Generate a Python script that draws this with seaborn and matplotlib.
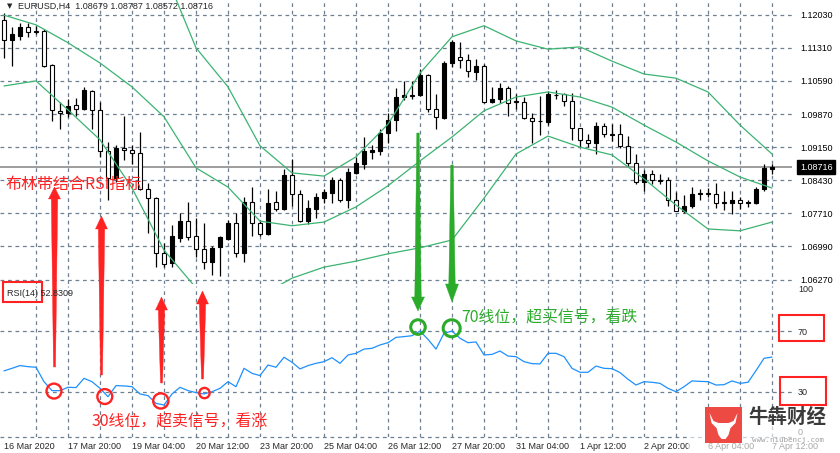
import matplotlib
matplotlib.use("Agg")
import matplotlib.pyplot as plt
import numpy as np
import pandas as pd
import seaborn as sns
from matplotlib.patches import Polygon, Rectangle
from matplotlib.transforms import blended_transform_factory

sns.set_style("white")
plt.rcParams["font.family"] = ["Liberation Sans", "DejaVu Sans"]
CJK = ["Noto Sans CJK SC", "DejaVu Sans"]

W, H = 840, 453

# ---- EURUSD H4 candles ----
opens = [1.1192, 1.1147, 1.1157, 1.1176, 1.1167, 1.1168, 1.1093, 1.0994, 1.0989, 1.1006,
         1.0998, 1.1038, 1.0996, 1.0907, 1.0847, 1.0914, 1.0909, 1.0902, 1.0823, 1.0804,
         1.0684, 1.0662, 1.0718, 1.0754, 1.0722, 1.0693, 1.0666, 1.0697, 1.0716, 1.0751,
         1.0684, 1.0795, 1.0751, 1.0725, 1.0795, 1.0780, 1.0854, 1.0812, 1.0755, 1.0780,
         1.0805, 1.0816, 1.0843, 1.0799, 1.0859, 1.0879, 1.0905, 1.0907, 1.0945, 1.0975,
         1.1023, 1.1027, 1.1028, 1.1071, 1.0998, 1.0979, 1.1097, 1.1112, 1.1104, 1.1079,
         1.1091, 1.1014, 1.1019, 1.1043, 1.1015, 1.1014, 1.0978, 1.0972, 1.0970, 1.1028,
         1.1030, 1.1015, 1.0956, 1.0931, 1.0925, 1.0962, 1.0944, 1.0943, 1.0918, 1.0880,
         1.0840, 1.0856, 1.0844, 1.0843, 1.0799, 1.0777, 1.0786, 1.0814, 1.0815, 1.0814,
         1.0795, 1.0793, 1.0801, 1.0794, 1.0794, 1.0824, 1.08679]
highs = [1.1206, 1.1177, 1.1186, 1.1184, 1.1178, 1.1171, 1.1096, 1.1014, 1.1019, 1.1021,
         1.1045, 1.1039, 1.1014, 1.0927, 1.0920, 1.0983, 1.0920, 1.0947, 1.0838, 1.0807,
         1.0706, 1.0746, 1.0771, 1.0796, 1.0760, 1.0751, 1.0700, 1.0722, 1.0757, 1.0771,
         1.0806, 1.0828, 1.0757, 1.0823, 1.0820, 1.0867, 1.0889, 1.0822, 1.0800, 1.0816,
         1.0823, 1.0849, 1.0847, 1.0869, 1.0894, 1.0936, 1.0920, 1.0954, 1.0990, 1.1043,
         1.1059, 1.1059, 1.1086, 1.1074, 1.1031, 1.1102, 1.1147, 1.1144, 1.1117, 1.1106,
         1.1095, 1.1045, 1.1055, 1.1047, 1.1031, 1.1023, 1.0989, 1.1026, 1.1038, 1.1039,
         1.1032, 1.1032, 1.0957, 1.0943, 1.0969, 1.0967, 1.0965, 1.0965, 1.0939, 1.0899,
         1.0865, 1.0865, 1.0857, 1.0851, 1.0818, 1.0811, 1.0828, 1.0825, 1.0827, 1.0838,
         1.0820, 1.0820, 1.0807, 1.0801, 1.0829, 1.0878, 1.08787]
lows = [1.1108, 1.1092, 1.1148, 1.1155, 1.1162, 1.1090, 1.0972, 1.0954, 1.0980, 1.0983,
        1.0996, 1.0954, 1.0894, 1.0800, 1.0840, 1.0886, 1.0878, 1.0822, 1.0728, 1.0655,
        1.0655, 1.0655, 1.0709, 1.0713, 1.0675, 1.0651, 1.0637, 1.0635, 1.0713, 1.0675,
        1.0666, 1.0722, 1.0722, 1.0724, 1.0775, 1.0778, 1.0788, 1.0753, 1.0747, 1.0760,
        1.0793, 1.0793, 1.0795, 1.0783, 1.0856, 1.0867, 1.0889, 1.0898, 1.0925, 1.0951,
        1.1018, 1.1020, 1.1026, 1.0992, 1.0954, 1.0976, 1.1090, 1.1088, 1.1067, 1.1060,
        1.1012, 1.1010, 1.1010, 1.0983, 1.0999, 1.0976, 1.0925, 1.0941, 1.0963, 1.1019,
        1.1004, 1.0930, 1.0916, 1.0916, 1.0901, 1.0938, 1.0929, 1.0914, 1.0875, 1.0835,
        1.0820, 1.0834, 1.0835, 1.0786, 1.0775, 1.0772, 1.0782, 1.0799, 1.0807, 1.0783,
        1.0778, 1.0769, 1.0780, 1.0784, 1.0791, 1.0820, 1.08572]
closes = [1.1148, 1.1160, 1.1176, 1.1166, 1.1166, 1.1092, 1.0996, 1.0989, 1.1004, 1.0999,
          1.1039, 1.0996, 1.0907, 1.0847, 1.0914, 1.0909, 1.0902, 1.0823, 1.0804, 1.0684,
          1.0660, 1.0722, 1.0754, 1.0720, 1.0693, 1.0666, 1.0695, 1.0719, 1.0749, 1.0684,
          1.0795, 1.0751, 1.0725, 1.0793, 1.0780, 1.0854, 1.0812, 1.0755, 1.0782, 1.0806,
          1.0817, 1.0843, 1.0799, 1.0861, 1.0880, 1.0907, 1.0909, 1.0946, 1.0974, 1.1025,
          1.1028, 1.1029, 1.1071, 1.0998, 1.0980, 1.1099, 1.1144, 1.1105, 1.1081, 1.1091,
          1.1014, 1.1020, 1.1043, 1.1012, 1.1013, 1.0978, 1.0972, 1.0971, 1.1030, 1.1029,
          1.1015, 1.0956, 1.0931, 1.0925, 1.0960, 1.0943, 1.0942, 1.0918, 1.0880, 1.0840,
          1.0856, 1.0843, 1.0842, 1.0799, 1.0777, 1.0787, 1.0813, 1.0815, 1.0814, 1.0793,
          1.0794, 1.0801, 1.0793, 1.0795, 1.0825, 1.0870, 1.08716]
last_price = 1.08716

# ---- Bollinger bands, sampled every 4 bars ----
bb_idx = list(range(0, 97, 4))
bb_upper = [1.1357, 1.1330, 1.1315, 1.1305, 1.1300, 1.1300, 1.1131, 1.1046, 1.0918, 1.0859,
            1.0852, 1.0894, 1.0965, 1.1076, 1.1155, 1.1179, 1.1146, 1.1128, 1.1133, 1.1102,
            1.1074, 1.1065, 1.1035, 1.0963, 1.0900]
bb_mid = [1.1202, 1.1181, 1.1142, 1.1098, 1.1046, 1.0981, 1.0870, 1.0828, 1.0754, 1.0744,
          1.0752, 1.0785, 1.0831, 1.0885, 1.0937, 1.0994, 1.1024, 1.1035, 1.1024, 1.1002,
          1.0963, 1.0926, 1.0885, 1.0850, 1.0826]
bb_lower = [1.1048, 1.1059, 1.0996, 1.0931, 1.0826, 1.0691, 1.0609, 1.0611, 1.0591, 1.0630,
            1.0654, 1.0667, 1.0683, 1.0696, 1.0713, 1.0804, 1.0900, 1.0939, 1.0915, 1.0898,
            1.0846, 1.0789, 1.0737, 1.0733, 1.0752]

# ---- RSI(14) ----
rsi = [43.7, 45.4, 47.2, 46.5, 46.1, 36.6, 30.7, 30.7, 32.9, 32.7,
       38.8, 36.6, 32.2, 26.7, 34.0, 33.8, 33.3, 28.5, 27.4, 22.3,
       21.2, 28.5, 32.9, 30.7, 29.4, 28.5, 30.0, 32.2, 36.6, 33.3,
       45.4, 42.1, 40.6, 47.6, 46.1, 52.7, 49.4, 45.0, 47.2, 48.7,
       49.8, 52.4, 48.7, 54.2, 55.3, 58.1, 58.6, 60.8, 62.3, 65.8,
       66.3, 66.9, 70.0, 64.5, 58.1, 68.5, 70.0, 65.2, 62.3, 62.8,
       54.2, 54.6, 56.8, 53.5, 53.1, 49.8, 48.5, 48.3, 55.3, 55.3,
       53.1, 45.4, 42.8, 42.8, 46.9, 45.4, 45.2, 42.6, 38.2, 34.4,
       36.6, 36.2, 35.5, 32.2, 30.0, 33.3, 37.1, 36.8, 36.6, 34.4,
       34.6, 37.1, 35.5, 36.2, 43.9, 52.0, 52.83]

price_ticks = [1.12030, 1.11310, 1.10590, 1.09870, 1.09150, 1.08430, 1.07710, 1.06990, 1.06270]
rsi_ticks = [0, 30, 70, 100]
xlabel_idx = [0, 8, 16, 24, 32, 40, 48, 56, 64, 72, 80, 88, 96]
xlabels = ["16 Mar 2020", "17 Mar 20:00", "19 Mar 04:00", "20 Mar 12:00", "23 Mar 20:00",
           "25 Mar 04:00", "26 Mar 12:00", "27 Mar 20:00", "31 Mar 04:00", "1 Apr 12:00",
           "2 Apr 20:00", "6 Apr 04:00", "7 Apr 12:00"]

# annotation anchors on the RSI pane (bar index, rsi level)
oversold_pts = [(6.25, 30.4), (12.6, 26.8), (19.6, 23.9), (25.06, 29.1)]
oversold_size = [115, 115, 120, 55]
overbought_pts = [(51.75, 72.6), (55.96, 71.8)]
overbought_size = [110, 150]

RED = "#ff2222"
GREEN = "#2aab2a"
GRID = "#6f8091"
BAND = "#3cb371"


def fx(px):
    return px / W


def fy(py):
    return 1 - py / H


fig = plt.figure(figsize=(W / 100, H / 100), dpi=100)
fig.patch.set_facecolor("white")

ax = fig.add_axes([0, fy(284), fx(792), 284 / H])
ax_rsi = fig.add_axes([0, fy(437.2), fx(792), (437.2 - 285.5) / H])

grid_kw = dict(color=GRID, lw=0.9, ls=(0, (3, 3)), zorder=0)
for a in (ax, ax_rsi):
    a.set_xlim(-0.5, 98.5)
    for s in a.spines.values():
        s.set_visible(False)
    for k in range(4, 97, 4):
        a.axvline(k, **grid_kw)
for v in price_ticks:
    ax.axhline(v, **grid_kw)
for v in (30, 70):
    ax_rsi.axhline(v, **grid_kw)
ax_rsi.axhline(0, clip_on=False, **grid_kw)

# candles
df = pd.DataFrame(dict(o=opens, h=highs, l=lows, c=closes))
df["i"] = np.arange(len(df))
bull = df.c > df.o
ax.axhline(last_price, color="#8c8c8c", lw=1.2, zorder=1)
ax.vlines(df.i, df.l, df.h, color="black", lw=0.9, zorder=2)
body_lo = np.minimum(df.o, df.c)
body_h = np.maximum((df.c - df.o).abs(), 0.00002)
ax.bar(df.i, body_h, bottom=body_lo, width=0.5,
       color=np.where(bull, "black", "white"), edgecolor="black", linewidth=0.8, zorder=3)

# bollinger bands
for band in (bb_upper, bb_mid, bb_lower):
    sns.lineplot(x=bb_idx, y=band, ax=ax, color=BAND, lw=0.9, zorder=4)

ax.set_ylim(1.06173, 1.1235)
ax.set_xticks([])
ax.yaxis.tick_right()
ax.set_yticks(price_ticks)
ax.set_yticklabels([f"{v:.5f}" for v in price_ticks])
ax.tick_params(axis="y", length=0, pad=5.8, labelsize=6.5, labelcolor="black")
ax.set_xlabel("")
ax.set_ylabel("")

tr = blended_transform_factory(ax.transAxes, ax.transData)
ax.text(800 / 792, last_price, f"{last_price:.5f}", transform=tr, color="white",
        fontsize=6.5, va="center", ha="left", clip_on=False, zorder=10,
        bbox=dict(boxstyle="square,pad=0.3", fc="black", ec="black"))

# RSI
sns.lineplot(x=df.i, y=rsi, ax=ax_rsi, color="#1e90ff", lw=0.9, zorder=3)
ax_rsi.set_ylim(0, 100)
ax_rsi.yaxis.tick_right()
ax_rsi.set_yticks(rsi_ticks)
ax_rsi.set_yticklabels([str(v) for v in rsi_ticks])
ax_rsi.tick_params(axis="y", length=0, pad=4.3, labelsize=6.5)
labs = ax_rsi.get_yticklabels()
labs[0].set_va("bottom")
labs[-1].set_va("top")
ax_rsi.set_xticks(xlabel_idx)
ax_rsi.set_xticklabels(xlabels, ha="left")
ax_rsi.tick_params(axis="x", length=0, pad=3.3, labelsize=6.5)
ax_rsi.set_xlabel("")
ax_rsi.set_ylabel("")

ax_rsi.scatter([p[0] for p in oversold_pts], [p[1] for p in oversold_pts], s=oversold_size,
               facecolors="none", edgecolors=RED, linewidths=1.7, zorder=6, clip_on=False)
ax_rsi.scatter([p[0] for p in overbought_pts], [p[1] for p in overbought_pts], s=overbought_size,
               facecolors="none", edgecolors=GREEN, linewidths=2.2, zorder=6, clip_on=False)

# header texts
fig.text(fx(9.5), fy(6.5), "\u25BC", family="DejaVu Sans", fontsize=5, ha="center", va="center")
fig.text(fx(18), fy(6.7), "EURUSD,H4  1.08679 1.08787 1.08572 1.08716",
         fontsize=6.5, ha="left", va="center")
fig.text(fx(7), fy(293), "RSI(14) 52.8309", fontsize=6.5, ha="left", va="center")


def tapered_arrow(x, y_tail, y_base, y_tip, tail_hw, neck_hw, head_hw, color):
    pts = [(x - tail_hw, y_tail), (x + tail_hw, y_tail), (x + neck_hw, y_base),
           (x + head_hw, y_base), (x, y_tip), (x - head_hw, y_base), (x - neck_hw, y_base)]
    fig.add_artist(Polygon([(fx(px), fy(py)) for px, py in pts], closed=True,
                           transform=fig.transFigure, fc=color, ec=color, lw=0.3, zorder=3))


def frame(x0, y0, x1, y1, color, lw=1.5):
    fig.add_artist(Rectangle((fx(x0), fy(y1)), fx(x1) - fx(x0), (y1 - y0) / H,
                             transform=fig.transFigure, fill=False, ec=color, lw=lw, zorder=3))


# red up arrows
for x, tail, base, tip in [(54.5, 367, 199, 187), (101.5, 375, 229, 216),
                           (161.5, 383, 310, 297), (202.5, 379, 304, 291)]:
    tapered_arrow(x, tail, base, tip, 1.0, 3.2, 6.0, RED)
# green down arrows
for x, tail, base, tip in [(418, 133, 297, 311), (452, 165, 284, 302)]:
    tapered_arrow(x, tail, base, tip, 1.2, 3.2, 6.5, GREEN)

frame(3, 282, 42, 302, RED)
frame(779, 315, 824, 341, RED)
frame(780, 377, 826, 405, RED)

fig.text(fx(5), fy(184), "布林带结合RSI指标", color=RED, fontsize=11.5, family=CJK,
         ha="left", va="center")
fig.text(fx(92), fy(421.7), "30线位，超卖信号，看涨", color=RED, fontsize=11.4, family=CJK,
         ha="left", va="center")
fig.text(fx(461.7), fy(318.3), "70线位，超买信号，看跌", color=GREEN, fontsize=11.4, family=CJK,
         ha="left", va="center")

# watermark
fig.add_artist(Rectangle((fx(688), 0), 1 - fx(688), (453 - 410) / H, transform=fig.transFigure,
                         fc="white", ec="none", alpha=0.6, zorder=4))
fig.add_artist(Rectangle((fx(705), fy(443)), fx(742) - fx(705), 36 / H, transform=fig.transFigure,
                         fc="#ee4a44", ec="none", zorder=5))
cx, cy = 723.5, 425
bull_pts = [(-14, -12), (-10, -4), (-5, -2), (5, -2), (10, -4), (14, -12), (12, -2), (7, 3),
            (5, 10), (2, 14), (-2, 14), (-5, 10), (-7, 3), (-12, -2)]
fig.add_artist(Polygon([(fx(cx + dx), fy(cy + dy)) for dx, dy in bull_pts], closed=True,
                       transform=fig.transFigure, fc="white", ec="none", zorder=6))
fig.text(fx(787.5), fy(417), "牛犇财经", color="#3a3a3a", fontsize=14, fontweight="bold",
         family=CJK, ha="center", va="center", zorder=6)
fig.text(fx(788), fy(440), "www.niubencj.com", color="#a0a0a0", fontsize=5.4,
         family="DejaVu Sans Mono", ha="center", va="center", zorder=6)

fig.savefig("out.png", dpi=100)
